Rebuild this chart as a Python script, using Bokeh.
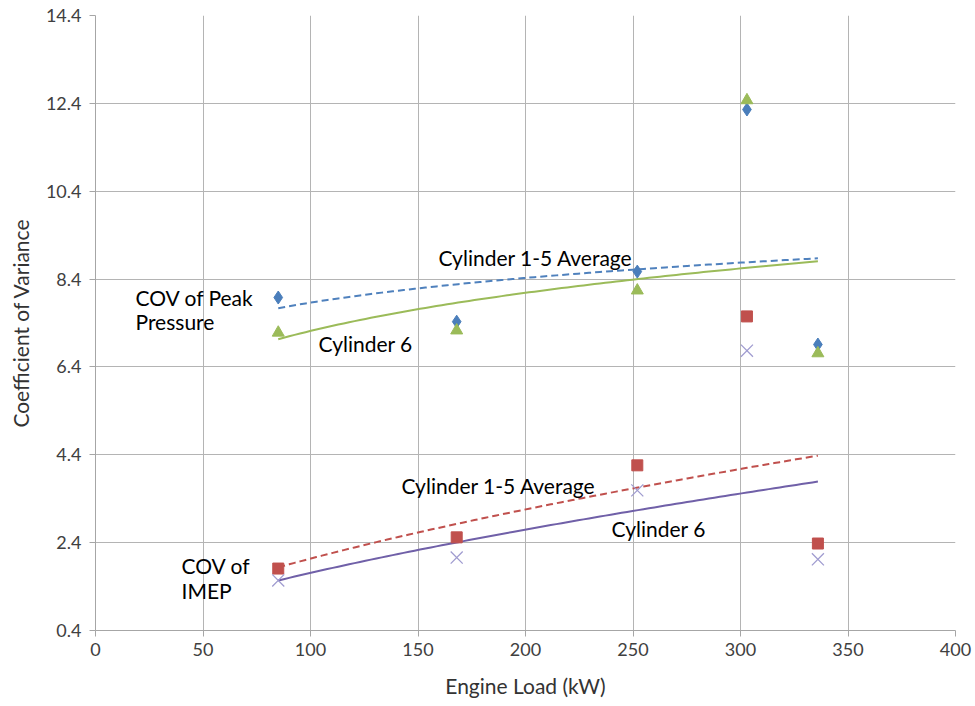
import numpy as np
from bokeh.plotting import figure
from bokeh.models import FixedTicker, Range1d, CustomJSTickFormatter
from bokeh.core.properties import value
from bokeh.embed import file_html
from bokeh.resources import INLINE

# ---- data ----
load_kw = [85, 168, 252, 303, 336]
peak_avg = [7.98, 7.43, 8.57, 12.26, 6.91]      # COV of peak pressure, cyl 1-5 avg
peak_cyl6 = [7.18, 7.23, 8.14, 12.47, 6.71]     # COV of peak pressure, cyl 6
imep_avg = [1.81, 2.52, 4.16, 7.55, 2.38]       # COV of IMEP, cyl 1-5 avg
imep_cyl6 = [1.54, 2.06, 3.59, 6.77, 2.02]      # COV of IMEP, cyl 6
x_ticks = [0, 50, 100, 150, 200, 250, 300, 350, 400]
y_ticks = [0.4, 2.4, 4.4, 6.4, 8.4, 10.4, 12.4, 14.4]

FONT = "Lato"

p = figure(width=975, height=706, output_backend="svg", toolbar_location=None,
           x_range=Range1d(0, 400), y_range=Range1d(0.4, 14.4),
           min_border_left=95, min_border_right=20, min_border_top=15, min_border_bottom=76)
p.outline_line_color = None
p.background_fill_color = "white"

for ax in (p.xaxis, p.yaxis):
    ax.axis_line_color = "#a6a6a6"
    ax.major_tick_line_color = "#a6a6a6"
    ax.major_tick_out = 6
    ax.major_tick_in = 0
    ax.minor_tick_line_color = None
    ax.major_label_text_font = FONT
    ax.major_label_text_font_size = "18px"
    ax.major_label_text_color = "#404040"
    ax.axis_label_text_font = FONT
    ax.axis_label_text_font_size = "21px"
    ax.axis_label_text_font_style = "normal"
    ax.axis_label_text_color = "#333333"
p.xaxis.ticker = FixedTicker(ticks=x_ticks)
p.yaxis.ticker = FixedTicker(ticks=y_ticks)
p.yaxis.formatter = CustomJSTickFormatter(code="return tick.toFixed(1);")
p.xaxis.axis_label = "Engine Load (kW)"
p.yaxis.axis_label = "Coefficient of Variance"
p.xaxis.major_label_standoff = 6
p.yaxis.major_label_standoff = 8
p.xaxis.axis_label_standoff = 14
p.yaxis.axis_label_standoff = 10

p.grid.grid_line_color = "#b4b4b4"
p.grid.grid_line_width = 1
p.xgrid.ticker = FixedTicker(ticks=x_ticks)
p.ygrid.ticker = FixedTicker(ticks=y_ticks)


def power_fit(xs, ys):
    lx, ly = np.log(xs), np.log(ys)
    b, a = np.polyfit(lx, ly, 1)
    xx = np.linspace(min(xs), max(xs), 100)
    return xx, np.exp(a) * xx ** b


# trend lines (power fits of the data)
xx, yy = power_fit(load_kw, peak_avg)
p.line(xx, yy, line_color="#4f81bd", line_width=2, line_dash="7 4")
xx, yy = power_fit(load_kw, peak_cyl6)
p.line(xx, yy, line_color="#9bbb59", line_width=2)
xx, yy = power_fit(load_kw, imep_avg)
p.line(xx, yy, line_color="#c0504d", line_width=2, line_dash="7 4")
xx, yy = power_fit(load_kw, imep_cyl6)
p.line(xx, yy, line_color="#7060a8", line_width=2)

# markers
p.scatter(load_kw, peak_avg, marker="diamond", size=13, fill_color="#4a7ebb", line_color="#4a7ebb")
p.scatter(load_kw, peak_cyl6, marker="triangle", size=12, fill_color="#9bbb59", line_color="#9bbb59")
p.scatter(load_kw, imep_avg, marker="square", size=11, fill_color="#c0504d", line_color="#c0504d")
p.scatter(load_kw, imep_cyl6, marker="x", size=17, line_color="#a09cd0", line_width=1.3)

# annotations
ann_x = [18.6, 18.6, 159.5, 103.7, 142.3, 240.0, 40.0, 40.0]
ann_y = [7.98, 7.43, 8.89, 6.93, 3.70, 2.72, 1.88, 1.31]
ann_t = ["COV of Peak", "Pressure", "Cylinder 1-5 Average", "Cylinder 6",
         "Cylinder 1-5 Average", "Cylinder 6", "COV of", "IMEP"]
p.text(ann_x, ann_y, text=ann_t, text_font=value(FONT), text_font_size="21px",
       text_color="#000000", text_baseline="middle", text_align="left")

open("out.html", "w").write(file_html(p, INLINE))
